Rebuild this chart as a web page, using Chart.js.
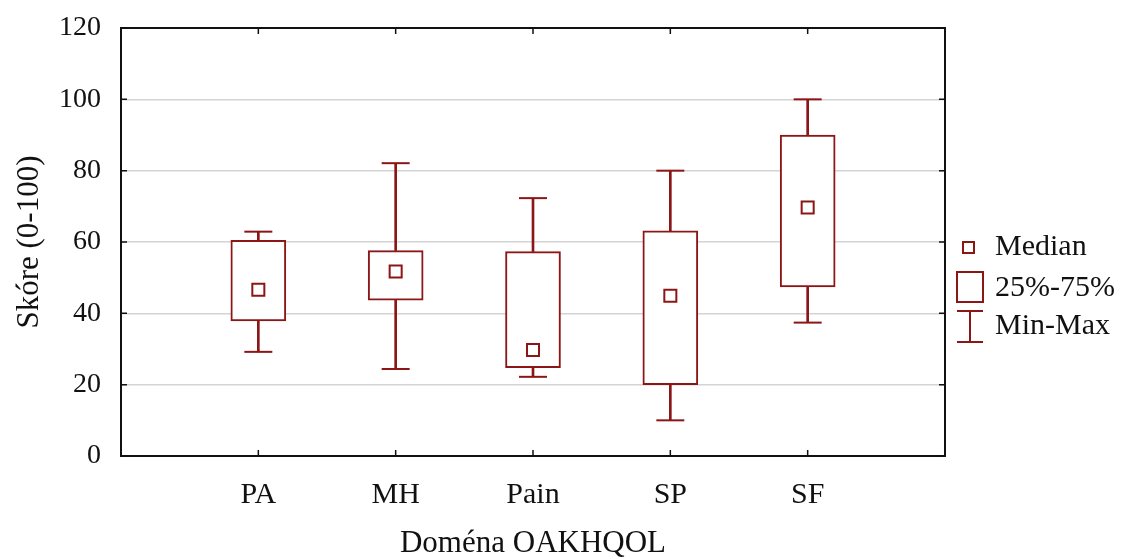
<!DOCTYPE html>
<html>
<head>
<meta charset="utf-8">
<script src="https://cdn.jsdelivr.net/npm/chart.js@4.4.0/dist/chart.umd.min.js"></script>
<style>
  html, body { margin: 0; padding: 0; background: #fff; }
  #wrap { width: 1124px; height: 559px; }
</style>
</head>
<body>
<div id="wrap"><canvas id="box-chart" width="1124" height="559"></canvas></div>
<script>
// box plot data
var categories = ["PA", "MH", "Pain", "SP", "SF"];
var minValues = [29.2, 24.4, 22.2, 10, 37.4];
var q1Values = [37.9, 43.7, 24.8, 20, 47.4];
var medianValues = [46.6, 51.7, 29.7, 44.9, 69.7];
var q3Values = [60.5, 57.6, 57.3, 63.1, 90];
var maxValues = [62.9, 82.1, 72.3, 80, 100];
var yTicks = [0, 20, 40, 60, 80, 100, 120];
var legendLabels = ["Median", "25%-75%", "Min-Max"];

var red = "#8c1616";
var font = "'Liberation Serif', 'Times New Roman', serif";

function pts(vals) {
    return vals.map(function (v, i) { return { x: i + 1, y: v }; });
}
function ranges(lo, hi) {
    return lo.map(function (v, i) { return { x: i + 1, y: [v, hi[i]] }; });
}

// frame + inward ticks, like the original
var framePlugin = {
    id: "frame",
    afterDatasetsDraw: function (chart) {
        var c = chart.ctx, a = chart.chartArea;
        var xs = chart.scales.x, ys = chart.scales.y;
        c.save();
        c.strokeStyle = "#111";
        c.lineWidth = 2;
        c.strokeRect(a.left, a.top, a.right - a.left, a.bottom - a.top);
        c.lineWidth = 1.5;
        c.beginPath();
        categories.forEach(function (cat, i) {
            var px = xs.getPixelForValue(i + 1);
            c.moveTo(px, a.bottom); c.lineTo(px, a.bottom - 6);
            c.moveTo(px, a.top); c.lineTo(px, a.top + 6);
        });
        yTicks.forEach(function (t) {
            var py = ys.getPixelForValue(t);
            c.moveTo(a.left, py); c.lineTo(a.left + 6, py);
            c.moveTo(a.right, py); c.lineTo(a.right - 6, py);
        });
        c.stroke();
        c.restore();
    }
};

var legendPlugin = {
    id: "boxLegend",
    afterDraw: function (chart) {
        var c = chart.ctx;
        var lx = 957, tx = 995;
        var rows = [247, 288, 326];
        c.save();
        c.strokeStyle = red;
        c.lineWidth = 2;
        // median
        c.strokeRect(963, rows[0] - 5, 11, 11);
        // box
        c.strokeRect(lx, 272, 26, 30);
        // whisker
        c.beginPath();
        c.moveTo(lx, 311); c.lineTo(lx + 26, 311);
        c.moveTo(lx + 13, 311); c.lineTo(lx + 13, 342);
        c.moveTo(lx, 342); c.lineTo(lx + 26, 342);
        c.stroke();
        c.fillStyle = "#111";
        c.font = "30px " + font;
        c.textBaseline = "middle";
        legendLabels.forEach(function (l, i) { c.fillText(l, tx, rows[i]); });
        c.restore();
    }
};

var ctx = document.getElementById("box-chart");

var boxChart = new Chart(ctx, {
    type: "bar",
    data: {
        datasets: [
            {
                type: "scatter",
                label: "Median",
                data: pts(medianValues),
                pointStyle: "rect",
                pointRadius: 8.5,
                pointBackgroundColor: "#fff",
                pointBorderColor: red,
                pointBorderWidth: 2,
                order: 0
            },
            {
                type: "scatter",
                label: "caps",
                data: pts(minValues).concat(pts(maxValues)),
                pointStyle: "line",
                pointRadius: 14,
                pointBorderColor: red,
                pointBorderWidth: 2,
                order: 1
            },
            {
                label: "25%-75%",
                data: ranges(q1Values, q3Values),
                backgroundColor: "#fff",
                borderColor: red,
                borderWidth: 2,
                borderSkipped: false,
                barThickness: 55,
                grouped: false,
                order: 2
            },
            {
                label: "low whisker",
                data: ranges(minValues, q1Values),
                backgroundColor: red,
                borderWidth: 0,
                barThickness: 2,
                grouped: false,
                order: 3
            },
            {
                label: "high whisker",
                data: ranges(q3Values, maxValues),
                backgroundColor: red,
                borderWidth: 0,
                barThickness: 2,
                grouped: false,
                order: 3
            }
        ]
    },
    options: {
        responsive: false,
        animation: false,
        layout: { padding: { top: 28, right: 179, left: 0, bottom: 0 } },
        plugins: {
            legend: { display: false },
            tooltip: { enabled: false }
        },
        scales: {
            x: {
                type: "linear",
                min: 0,
                max: 6,
                offset: false,
                afterFit: function (s) { s.height = 103; s.paddingLeft = 0; s.paddingRight = 0; },
                afterBuildTicks: function (s) {
                    s.ticks = categories.map(function (c, i) { return { value: i + 1 }; });
                },
                ticks: {
                    callback: function (v) { return categories[v - 1] || ""; },
                    color: "#111",
                    font: { family: font, size: 30 },
                    padding: 13,
                    maxRotation: 0
                },
                grid: { display: false },
                border: { display: false },
                title: {
                    display: true,
                    text: "Doména OAKHQOL",
                    color: "#111",
                    font: { family: font, size: 31, lineHeight: 1 },
                    padding: { top: 0, bottom: 0 }
                }
            },
            y: {
                min: 0,
                max: 120,
                afterFit: function (s) { s.width = 121; s.paddingTop = 0; s.paddingBottom = 0; },
                afterBuildTicks: function (s) {
                    s.ticks = yTicks.map(function (t) { return { value: t }; });
                },
                ticks: {
                    color: "#111",
                    font: { family: font, size: 28 },
                    padding: 20
                },
                grid: {
                    color: function (c) { return (c.tick && (c.tick.value === 0 || c.tick.value === 120)) ? "rgba(0,0,0,0)" : "#d4d4d4"; },
                    lineWidth: 1.5,
                    drawTicks: false
                },
                border: { display: false },
                title: {
                    display: true,
                    text: "Skóre (0-100)",
                    color: "#111",
                    font: { family: font, size: 31, lineHeight: 1 },
                    padding: { top: 14, bottom: 0 }
                }
            }
        }
    },
    plugins: [framePlugin, legendPlugin]
});
</script>
</body>
</html>
